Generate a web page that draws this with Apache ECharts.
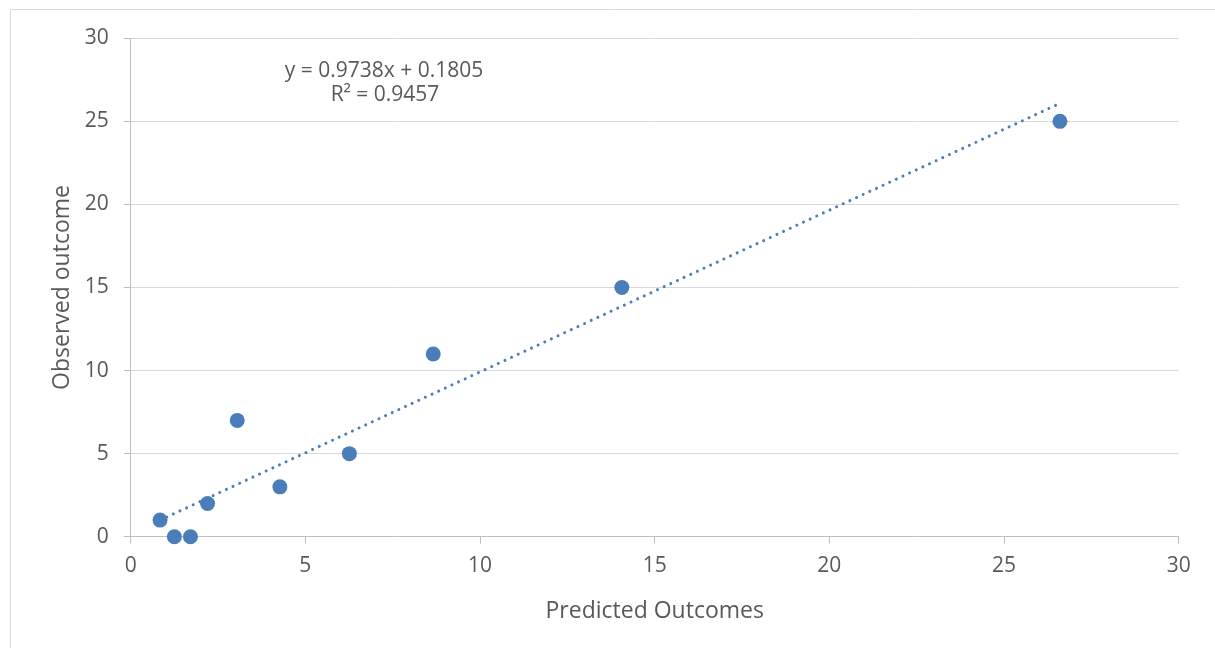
<!DOCTYPE html>
<html>
<head>
<meta charset="utf-8">
<script src="https://cdn.jsdelivr.net/npm/echarts@6/dist/echarts.min.js"></script>
<style>
html,body{margin:0;padding:0;background:#fff;}
#chart{width:1215px;height:648px;}
</style>
</head>
<body>
<div id="chart"></div>
<script>
const predicted = [0.84, 1.25, 1.71, 2.20, 3.05, 4.27, 6.26, 8.66, 14.06, 26.6];
const observed  = [1, 0, 0, 2, 7, 3, 5, 11, 15, 25];
const trendSlope = 0.9738;
const trendIntercept = 0.1805;
const rSquared = 0.9457;
const xTicks = [0, 5, 10, 15, 20, 25, 30];
const yTicks = [0, 5, 10, 15, 20, 25, 30];

const points = predicted.map((x, i) => [x, observed[i]]);
const xMinData = Math.min(...predicted), xMaxData = Math.max(...predicted);
const trend = [
  [xMinData, trendSlope * xMinData + trendIntercept],
  [xMaxData, trendSlope * xMaxData + trendIntercept]
];

const font = '"Open Sans", sans-serif';
const chart = echarts.init(document.getElementById('chart'));
chart.setOption({
  animation: false,
  backgroundColor: '#ffffff',
  grid: { left: 130.7, right: 36.3, top: 38.3, bottom: 111.3, containLabel: false },
  xAxis: {
    type: 'value', min: xTicks[0], max: xTicks[xTicks.length - 1], interval: 5,
    name: 'Predicted Outcomes', nameLocation: 'middle', nameGap: 63,
    nameTextStyle: { fontFamily: font, fontSize: 23, color: '#595959' },
    axisLine: { show: true, onZero: false, lineStyle: { color: '#bfbfbf', width: 1 } },
    axisTick: { show: true, inside: false, length: 7, lineStyle: { color: '#bfbfbf' } },
    axisLabel: { fontFamily: font, fontSize: 21, color: '#595959', margin: 19 },
    splitLine: { show: false }
  },
  yAxis: {
    type: 'value', min: yTicks[0], max: yTicks[yTicks.length - 1], interval: 5,
    name: 'Observed outcome', nameLocation: 'middle', nameGap: 57,
    nameTextStyle: { fontFamily: font, fontSize: 23, color: '#595959' },
    axisLine: { show: true, onZero: false, lineStyle: { color: '#bfbfbf', width: 1 } },
    axisTick: { show: true, inside: false, length: 7, lineStyle: { color: '#bfbfbf' } },
    axisLabel: { fontFamily: font, fontSize: 21, color: '#595959', margin: 22 },
    splitLine: { show: true, lineStyle: { color: '#d9d9d9', width: 1 } }
  },
  series: [
    {
      type: 'line', data: trend, symbol: 'none', z: 2, silent: true,
      lineStyle: { color: '#4a7ebb', width: 3, type: [0.01, 7.3], cap: 'round' }
    },
    {
      type: 'scatter', data: points, symbol: 'circle', symbolSize: 15, z: 3,
      itemStyle: { color: '#4a7ebb', opacity: 1 }
    }
  ],
  graphic: [
    {
      type: 'rect', silent: true, z: -1,
      shape: { x: 10.5, y: 9.5, width: 1300, height: 800 },
      style: { fill: 'none', stroke: '#d9d9d9', lineWidth: 1 }
    },
    {
      type: 'text', silent: true, x: 384, y: 71,
      style: {
        text: 'y = ' + trendSlope.toFixed(4) + 'x + ' + trendIntercept.toFixed(4),
        font: '21px ' + font, fill: '#595959', textAlign: 'center', textVerticalAlign: 'middle'
      }
    },
    {
      type: 'text', silent: true, x: 385, y: 95,
      style: {
        text: 'R² = ' + rSquared.toFixed(4),
        font: '21px ' + font, fill: '#595959', textAlign: 'center', textVerticalAlign: 'middle'
      }
    }
  ]
});
</script>
</body>
</html>
